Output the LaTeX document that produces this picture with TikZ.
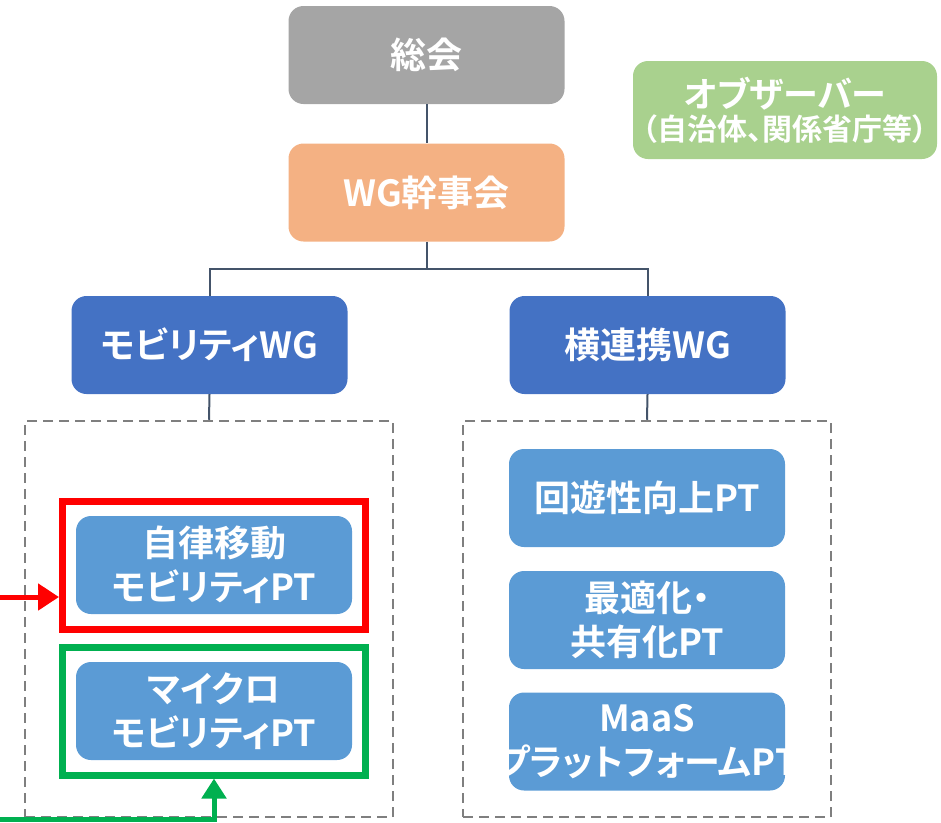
\documentclass[tikz,border=0pt]{standalone}
\usepackage{fontspec}
\setmainfont{Noto Sans CJK JP}[BoldFont={* Bold}, RawFeature=+palt]
\usetikzlibrary{arrows.meta}
\definecolor{cgray}{HTML}{A5A5A5}
\definecolor{corange}{HTML}{F4B183}
\definecolor{cgreen}{HTML}{A9D18E}
\definecolor{cdblue}{HTML}{4472C4}
\definecolor{clblue}{HTML}{5B9BD5}
\definecolor{cconn}{HTML}{44546A}
\definecolor{cdash}{HTML}{7F7F7F}
\definecolor{cred}{HTML}{FF0000}
\definecolor{cgrn}{HTML}{00B050}
\begin{document}
\begin{tikzpicture}[x=1pt,y=-1pt,
  box/.style={rounded corners=15pt, text=white, align=center, inner sep=0pt,
    minimum width=276pt, minimum height=98pt,
    font=\fontsize{36}{44}\selectfont\bfseries},
  conn/.style={draw=cconn, line width=2pt},
  dashbox/.style={draw=cdash, line width=2.5pt, dash pattern=on 10pt off 6pt,
    minimum width=368pt, minimum height=396pt, inner sep=0pt},
  framebox/.style={line width=7pt, minimum width=303pt, minimum height=128pt, inner sep=0pt},
]
\useasboundingbox (0,0) rectangle (941,822);
% top nodes
\node[box, fill=cgray] (sokai) at (426.5,55) {総会};
\node[box, fill=corange] (kanji) at (426.5,192.5) {WG幹事会};
\node[box, fill=cgreen, minimum width=304pt, font=\fontsize{30}{33}\selectfont\bfseries] (obs) at (785,110)
  {{\fontsize{35}{33}\selectfont オブザーバー}\\\makebox[290pt][c]{（自治体、関係省庁等）}};
\node[box, fill=cdblue] (mwg) at (209.5,345) {モビリティWG};
\node[box, fill=cdblue] (ywg) at (647.5,345) {横連携WG};
% dashed containers
\node[dashbox] (ldash) at (209,619) {};
\node[dashbox] (rdash) at (647,619) {};
% connectors
\draw[conn] (sokai) -- (kanji);
\draw[conn] (kanji.south) -- ++(0,27) coordinate (split) -| (mwg.north);
\draw[conn] (split) -| (ywg.north);
\draw[conn] (mwg.south) -- (ldash.north);
\draw[conn] (ywg.south) -- (rdash.north);
% left PTs
\node[framebox, draw=cred] (redbox) at (214,565.5) {};
\node[framebox, draw=cgrn] (grnbox) at (214,711) {};
\node[box, fill=clblue] (jiritsu) at (214,565) {自律移動\\モビリティPT};
\node[box, fill=clblue] (micro) at (214,711) {マイクロ\\モビリティPT};
% right PTs
\node[box, fill=clblue] (kaiyu) at (647,498) {回遊性向上PT};
\node[box, fill=clblue] (saiteki) at (647,620) {最適化・\\共有化PT};
\node[box, fill=clblue] (maas) at (647,741.5) {MaaS\\\makebox[260pt][c]{プラットフォームPT}};
% incoming arrows
\coordinate (rstart) at (0,597);
\coordinate (gstart) at (0,819.5);
\draw[cred, line width=5pt, -{Triangle[length=21pt,width=26pt]}] (rstart) -- (rstart -| redbox.west);
\draw[cgrn, line width=5pt, -{Triangle[length=20pt,width=24pt]}] (gstart) -| (grnbox.south);
\end{tikzpicture}
\end{document}
